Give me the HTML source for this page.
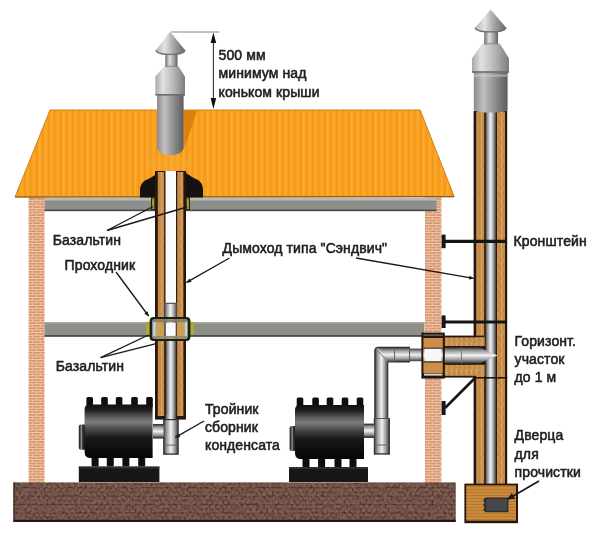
<!DOCTYPE html>
<html lang="ru">
<head>
<meta charset="utf-8">
<title>Дымоход типа "Сэндвич"</title>
<style>
html,body{margin:0;padding:0;background:#fff;}
body{width:600px;height:534px;overflow:hidden;}
svg{display:block;filter:blur(0.45px);}
text{font-family:"Liberation Sans",sans-serif;font-weight:normal;font-size:14px;fill:#202020;stroke:#202020;stroke-width:0.55px;letter-spacing:0.1px;}
</style>
</head>
<body>
<svg width="600" height="534" viewBox="0 0 600 534">
<defs>
  <!-- metal gradients -->
  <linearGradient id="mH" x1="0" y1="0" x2="1" y2="0">
    <stop offset="0" stop-color="#3e3e3e"/>
    <stop offset="0.2" stop-color="#9a9a9a"/>
    <stop offset="0.5" stop-color="#f2f2f2"/>
    <stop offset="0.76" stop-color="#a0a0a0"/>
    <stop offset="1" stop-color="#3a3a3a"/>
  </linearGradient>
  <linearGradient id="mV" x1="0" y1="0" x2="0" y2="1">
    <stop offset="0" stop-color="#3e3e3e"/>
    <stop offset="0.2" stop-color="#9a9a9a"/>
    <stop offset="0.5" stop-color="#f2f2f2"/>
    <stop offset="0.76" stop-color="#a0a0a0"/>
    <stop offset="1" stop-color="#3a3a3a"/>
  </linearGradient>
  <linearGradient id="capLight" x1="0" y1="0" x2="1" y2="0">
    <stop offset="0" stop-color="#a8a8a8"/>
    <stop offset="0.25" stop-color="#e2e2e2"/>
    <stop offset="0.6" stop-color="#b8b8b8"/>
    <stop offset="1" stop-color="#7c7c7c"/>
  </linearGradient>
  <linearGradient id="coneG" x1="0" y1="0" x2="1" y2="0">
    <stop offset="0" stop-color="#b4b4b4"/>
    <stop offset="0.3" stop-color="#e4e4e4"/>
    <stop offset="0.58" stop-color="#ababab"/>
    <stop offset="1" stop-color="#686868"/>
  </linearGradient>
  <linearGradient id="neckG" x1="0" y1="0" x2="1" y2="0">
    <stop offset="0" stop-color="#6e6e6e"/>
    <stop offset="0.35" stop-color="#dedede"/>
    <stop offset="0.7" stop-color="#a2a2a2"/>
    <stop offset="1" stop-color="#5e5e5e"/>
  </linearGradient>
  <linearGradient id="capDark" x1="0" y1="0" x2="1" y2="0">
    <stop offset="0" stop-color="#8a8a8a"/>
    <stop offset="0.28" stop-color="#c0c0c0"/>
    <stop offset="0.6" stop-color="#929292"/>
    <stop offset="1" stop-color="#5c5c5c"/>
  </linearGradient>
  <linearGradient id="stove" x1="0" y1="0" x2="0" y2="1">
    <stop offset="0" stop-color="#101010"/>
    <stop offset="0.1" stop-color="#1e1e1e"/>
    <stop offset="0.24" stop-color="#5e5e5e"/>
    <stop offset="0.33" stop-color="#7c7c7c"/>
    <stop offset="0.45" stop-color="#4c4c4c"/>
    <stop offset="0.62" stop-color="#1a1a1a"/>
    <stop offset="1" stop-color="#050505"/>
  </linearGradient>
  <linearGradient id="stoveCap" x1="0" y1="0" x2="1" y2="0">
    <stop offset="0" stop-color="#1e1e1e"/>
    <stop offset="0.16" stop-color="#3a3a3a"/>
    <stop offset="0.32" stop-color="#969696"/>
    <stop offset="0.5" stop-color="#2c2c2c"/>
    <stop offset="1" stop-color="#111111"/>
  </linearGradient>
  <!-- patterns -->
  <pattern id="roofP" width="6" height="10" patternUnits="userSpaceOnUse">
    <rect width="6" height="10" fill="#f9a01e"/>
    <rect x="0" width="1.2" height="10" fill="#f3951a"/>
    <rect x="3" width="1.4" height="10" fill="#fcab2e"/>
  </pattern>
  <pattern id="brickP" width="8" height="5.4" patternUnits="userSpaceOnUse">
    <rect width="8" height="5.4" fill="#d99770"/>
    <rect y="0" width="8" height="0.9" fill="#f0cdb4"/>
    <rect y="2.7" width="8" height="0.9" fill="#f0cdb4"/>
    <rect x="0" y="0" width="0.9" height="2.7" fill="#ebbfa2"/>
    <rect x="4" y="2.7" width="0.9" height="2.7" fill="#ebbfa2"/>
  </pattern>
  <pattern id="floorP" width="11" height="8.4" patternUnits="userSpaceOnUse">
    <rect width="11" height="8.4" fill="#704e43"/>
    <rect y="0" width="11" height="1.3" fill="#48302a"/>
    <rect y="4.2" width="11" height="1.1" fill="#553a32"/>
    <rect x="0" y="0" width="1.1" height="4.2" fill="#4e342d"/>
    <rect x="5.5" y="0" width="1.1" height="4.2" fill="#4e342d"/>
    <rect x="2.7" y="4.2" width="1.1" height="4.2" fill="#4e342d"/>
    <rect x="8.2" y="4.2" width="1.1" height="4.2" fill="#4e342d"/>
  </pattern>
  <pattern id="insP" width="5" height="9" patternUnits="userSpaceOnUse">
    <rect width="5" height="9" fill="#c88f4c"/>
    <rect x="1" y="0" width="1" height="6" fill="#d6a86c"/>
    <rect x="3.4" y="3" width="1" height="6" fill="#b98040"/>
    <rect x="2.2" y="6" width="1" height="3" fill="#d2a264"/>
  </pattern>
  <pattern id="boxP" width="6" height="3" patternUnits="userSpaceOnUse">
    <rect width="6" height="3" fill="#c98a3c"/>
    <rect y="0" width="6" height="0.8" fill="#b37528"/>
  </pattern>
  <filter id="noise" x="0" y="0" width="100%" height="100%">
    <feTurbulence type="fractalNoise" baseFrequency="0.32 0.36" numOctaves="2" seed="7" result="t"/>
    <feColorMatrix in="t" type="matrix" values="0 0 0 0 0.27  0 0 0 0 0.16  0 0 0 0 0.13  3.2 0 0 0 -1.1"/>
  </filter>
  <marker id="ahBig" viewBox="0 0 10 10" refX="9" refY="5" markerWidth="10" markerHeight="7.5" markerUnits="userSpaceOnUse" orient="auto">
    <path d="M0,0.5 L10,5 L0,9.5 z" fill="#1a1a1a"/>
  </marker>
  <marker id="ah" viewBox="0 0 10 10" refX="9" refY="5" markerWidth="7.5" markerHeight="5" markerUnits="userSpaceOnUse" orient="auto">
    <path d="M0,1 L10,5 L0,9 z" fill="#1a1a1a"/>
  </marker>
</defs>

<rect width="600" height="534" fill="#ffffff"/>

<!-- ===== WALLS ===== -->
<rect x="28.5" y="197" width="16" height="286" fill="url(#brickP)"/>
<rect x="425" y="197" width="16.4" height="286" fill="url(#brickP)"/>

<!-- ===== CEILING SLAB ===== -->
<g id="ceiling">
  <rect x="44.5" y="198" width="392" height="13" fill="#8d908a"/>
  <rect x="44.5" y="198" width="392" height="2.5" fill="#b9bab6"/>
  <rect x="44.5" y="209.6" width="392" height="1.6" fill="#4a4a48"/>
</g>

<!-- ===== FLOOR SLAB (2nd floor) ===== -->
<g id="midfloor">
  <rect x="44.5" y="322" width="380" height="14.5" fill="#8d8e88"/>
  <rect x="44.5" y="322" width="380" height="1.5" fill="#a9aaa5"/>
  <rect x="44.5" y="335.2" width="380" height="1.5" fill="#3c3c3a"/>
</g>

<!-- ===== GROUND ===== -->
<g id="ground">
  <rect x="13.5" y="482.5" width="442.2" height="39.4" fill="url(#floorP)"/>
  <rect x="13.5" y="482.5" width="442.2" height="39.4" fill="#6a463c" filter="url(#noise)" opacity="0.6"/>
  <rect x="13.5" y="519.8" width="442.2" height="2.1" fill="#1d1412"/>
  <rect x="13.5" y="482.5" width="1.2" height="39.4" fill="#3a231c"/>
</g>

<!-- ===== ROOF ===== -->
<g id="roof">
  <polygon points="50,110 420.2,110 454.2,196.6 15,197" fill="url(#roofP)"/>
  <polygon points="50,110 420.2,110 454.2,196.6 15,197" fill="none" stroke="#c9780f" stroke-width="0.9"/>
  <line x1="15" y1="197" x2="454" y2="196.6" stroke="#8a5a1a" stroke-width="1.2"/>
  <!-- shadow beside left chimney -->
  <polygon points="184,110.5 197,110.5 184.5,148" fill="#d9800f"/>
  <!-- light patch below chimney -->
  <ellipse cx="170" cy="163" rx="22" ry="7" fill="#f9a93a" opacity="0.35"/>
</g>

<!-- ===== roof penetration (black dome) ===== -->
<path d="M140,197.5 L140,191 C140,185 142.5,181.5 147,179.5 C151,178 154,175.5 157.5,173.2 L186.5,173.2 C190,175.5 193,178 197,179.5 C201,181.5 203,185 203,191 L203,197.5 Z" fill="#141210"/>

<!-- ===== LEFT SANDWICH PIPE ===== -->
<g id="leftpipe">
  <!-- outer shell -->
  <rect x="155" y="171" width="31" height="248.6" fill="#2a150c"/>
  <!-- insulation -->
  <rect x="157.8" y="172" width="6.4" height="244" fill="url(#insP)"/>
  <rect x="177.2" y="172" width="6.2" height="244" fill="url(#insP)"/>
  <!-- inner flue, empty (white) -->
  <rect x="165.5" y="171" width="10.5" height="132" fill="#fbfbfb"/>
  <!-- inner steel pipe -->
  <rect x="164.2" y="302.8" width="12.8" height="20" fill="url(#mH)"/>
  <rect x="164.2" y="302.8" width="12.8" height="1.2" fill="#5a5a5a"/>
  <rect x="165.6" y="322" width="10.6" height="100" fill="url(#mH)"/>
  <!-- bottom of shell: open inner -->
  <rect x="165.3" y="415" width="10.8" height="5" fill="url(#mH)"/>
</g>

<!-- basalt (yellow-green) at ceiling -->
<rect x="151" y="197.5" width="4.2" height="12.5" fill="#23230f"/>
<rect x="185.8" y="197.5" width="4.2" height="12.5" fill="#23230f"/>
<rect x="152" y="198.5" width="2.4" height="10.5" fill="#9a9a30"/>
<rect x="186.6" y="198.5" width="2.4" height="10.5" fill="#9a9a30"/>

<!-- ===== PASS-THROUGH COLLAR (Проходник) ===== -->
<g id="collar">
  <rect x="146.2" y="321.8" width="4" height="13" fill="#aeac2c"/>
  <rect x="190" y="321.8" width="4" height="13" fill="#aeac2c"/>
  <rect x="149.6" y="317" width="40.8" height="24" rx="4" ry="4" fill="#1a1e14"/>
  <rect x="152.2" y="319.2" width="35.6" height="19.6" rx="2" ry="2" fill="#a9a9a4"/>
  <rect x="153.4" y="321" width="2" height="16" fill="#d0d0cc"/>
  <rect x="185" y="321" width="2" height="16" fill="#d0d0cc"/>
  <rect x="157" y="319.2" width="26.6" height="19.6" fill="#c6a160"/>
  <rect x="157" y="323" width="7.2" height="12.5" fill="#d0a048"/>
  <rect x="177" y="323" width="6.6" height="12.5" fill="#d0a048"/>
  <rect x="164.2" y="319.2" width="12.8" height="19.6" fill="url(#mH)"/>
  <rect x="166" y="322.8" width="9.6" height="13" fill="#fafafa"/>
  <rect x="153" y="319.2" width="34" height="3" fill="#857b68" opacity="0.9"/>
  <rect x="153" y="336" width="34" height="2.8" fill="#958a74" opacity="0.9"/>
</g>

<!-- ===== LEFT CHIMNEY CAP ===== -->
<g id="leftcap">
  <!-- lower cylinder -->
  <path d="M157,94 L183.6,94 L183.6,147 C183.6,158 157,158 157,147 Z" fill="url(#capDark)"/>
  <!-- shoulder band -->
  <path d="M164,66.4 L178.6,66.4 L185,76.5 L185,95 L155.4,95 L155.4,76.5 Z" fill="url(#capLight)"/>
  <rect x="155.4" y="94" width="29.6" height="1.6" fill="#6a6a6a"/>
  <!-- neck -->
  <rect x="165.3" y="53" width="12.2" height="14" fill="url(#neckG)"/>
  <rect x="165.3" y="65.8" width="12.2" height="1" fill="#8a8a8a"/>
  <!-- cone -->
  <path d="M170,31.8 L185,50 C185,56 156,56 156,50 Z" fill="url(#coneG)"/>
  <path d="M156,50 C156,56 185,56 185,50" fill="none" stroke="#6e6e6e" stroke-width="1.2"/>
</g>

<!-- dimension -->
<g id="dim" stroke="#222" stroke-width="1" fill="#111">
  <line x1="171" y1="32" x2="219.4" y2="32" stroke="#777" stroke-width="0.9"/>
  <line x1="213.4" y1="36" x2="213.4" y2="104"/>
  <polygon points="213.4,32.4 210.6,43 216.2,43" stroke="none"/>
  <polygon points="213.4,109 210.6,98 216.2,98" stroke="none"/>
</g>

<!-- ===== LEFT TEE ===== -->
<g id="lefttee">
  <rect x="153" y="424.5" width="14" height="13.6" fill="url(#mV)"/>
  <rect x="153" y="424.1" width="11" height="1.1" fill="#333"/>
  <rect x="153" y="437.4" width="11" height="1.1" fill="#333"/>
  <rect x="163.6" y="419" width="14.6" height="35.6" fill="url(#mH)"/>
  <rect x="163.2" y="419" width="1.1" height="5.5" fill="#2e2e2e"/>
  <rect x="163.2" y="438" width="1.1" height="16.6" fill="#2e2e2e"/>
  <rect x="177.6" y="419" width="1.1" height="35.6" fill="#2e2e2e"/>
  <rect x="163.6" y="444.6" width="14.6" height="1" fill="#666"/>
  <rect x="163.6" y="453.4" width="14.6" height="1.4" fill="#3a3a3a"/>
  <rect x="163.6" y="419" width="14.6" height="1.2" fill="#333"/>
</g>

<!-- ===== LEFT STOVE ===== -->
<g id="stoveL">
  <g fill="#0e0e0e">
    <rect x="86.4" y="397" width="6.6" height="10" rx="1.5"/>
    <rect x="101.2" y="397" width="6.6" height="10" rx="1.5"/>
    <rect x="115.8" y="397" width="6.6" height="10" rx="1.5"/>
    <rect x="131.2" y="397" width="6.6" height="10" rx="1.5"/>
    <rect x="146.2" y="397" width="6.6" height="10" rx="1.5"/>
    <rect x="91.6" y="455" width="7" height="11.5" rx="1"/>
    <rect x="106.8" y="455" width="7" height="11.5" rx="1"/>
    <rect x="122.4" y="455" width="7" height="11.5" rx="1"/>
    <rect x="138.2" y="455" width="7" height="11.5" rx="1"/>
  </g>
  <rect x="78.8" y="424.4" width="8" height="25.4" rx="2" fill="url(#stoveCap)"/>
  <path d="M89.6,404.6 L152.6,404.6 L152.6,458 L90.6,458 Q84.6,458 84.6,452 L84.6,409.6 Q84.6,404.6 89.6,404.6 Z" fill="url(#stove)"/>
  <rect x="78.8" y="466.6" width="80.6" height="15.4" fill="#171717"/>
  <rect x="78.8" y="466.6" width="80.6" height="2" fill="#2e2e2e"/>
</g>

<!-- ===== RIGHT STOVE ===== -->
<g id="stoveR">
  <g fill="#0e0e0e">
    <rect x="296.7" y="397.4" width="6.6" height="10" rx="1.5"/>
    <rect x="312.3" y="397.4" width="6.6" height="10" rx="1.5"/>
    <rect x="326.7" y="397.4" width="6.6" height="10" rx="1.5"/>
    <rect x="341.7" y="397.4" width="6.6" height="10" rx="1.5"/>
    <rect x="356.7" y="397.4" width="6.6" height="10" rx="1.5"/>
    <rect x="302.5" y="456" width="7" height="11.5" rx="1"/>
    <rect x="318.1" y="456" width="7" height="11.5" rx="1"/>
    <rect x="334.5" y="456" width="7" height="11.5" rx="1"/>
    <rect x="349.5" y="456" width="7" height="11.5" rx="1"/>
  </g>
  <rect x="289.6" y="426" width="8" height="25" rx="2" fill="url(#stoveCap)"/>
  <path d="M300,405 L364,405 L364,459 L301,459 Q295,459 295,453 L295,410 Q295,405 300,405 Z" fill="url(#stove)"/>
  <rect x="289" y="467" width="79" height="15" fill="#171717"/>
  <rect x="289" y="467" width="79" height="2" fill="#2e2e2e"/>
</g>

<!-- ===== RIGHT ROOM PIPING ===== -->
<g id="roompipe">
  <!-- horizontal run -->
  <rect x="380" y="347.6" width="30" height="14.4" fill="url(#mV)"/>
  <rect x="409.5" y="348.6" width="13" height="12.6" fill="url(#mV)"/>
  <rect x="394" y="347.6" width="1" height="14.4" fill="#666"/>
  <rect x="409" y="347.6" width="1" height="14.4" fill="#555"/>
  <rect x="388" y="361.4" width="22" height="1.1" fill="#2e2e2e"/>
  <!-- vertical run -->
  <rect x="375" y="356" width="12.8" height="63" fill="url(#mH)"/>
  <rect x="387.2" y="362" width="1.1" height="57" fill="#2e2e2e"/>
  <!-- elbow -->
  <path d="M375,362 L375,351 Q375,347.6 378.5,347.6 L388,347.6 L388,362 Z" fill="url(#mH)"/>
  <path d="M378,347.6 L394,347.6 L394,362 L387.8,362 Z" fill="url(#mV)"/>
  <path d="M374.8,419 L374.8,351 Q374.8,347.4 378.5,347.4 L410,347.4" fill="none" stroke="#2e2e2e" stroke-width="1.2"/>
  <line x1="375.4" y1="348" x2="388" y2="362" stroke="#777" stroke-width="0.9"/>
  <!-- tee -->
  <rect x="364" y="424" width="14" height="13.4" fill="url(#mV)"/>
  <rect x="364" y="423.6" width="10.4" height="1.1" fill="#333"/>
  <rect x="364" y="436.8" width="10.4" height="1.1" fill="#333"/>
  <rect x="374.2" y="418" width="15.2" height="36.4" fill="url(#mH)"/>
  <rect x="373.8" y="418" width="1.1" height="6" fill="#2e2e2e"/>
  <rect x="373.8" y="437.4" width="1.1" height="17" fill="#2e2e2e"/>
  <rect x="388.8" y="418" width="1.1" height="36.4" fill="#2e2e2e"/>
  <rect x="374.2" y="418" width="15.2" height="1" fill="#555"/>
  <rect x="374.2" y="444.5" width="15.2" height="1" fill="#666"/>
  <rect x="374.2" y="453.2" width="15.2" height="1.4" fill="#3a3a3a"/>
</g>

<!-- ===== RIGHT OUTDOOR CHIMNEY ===== -->
<g id="rightpipe">
  <!-- vertical shell -->
  <rect x="473.6" y="111" width="33.6" height="374" fill="#2a150c"/>
  <rect x="476.3" y="112" width="7.9" height="372" fill="url(#insP)"/>
  <rect x="497" y="112" width="8" height="372" fill="url(#insP)"/>
  <rect x="485.4" y="112" width="10.6" height="372" fill="url(#mH)"/>
  <!-- horizontal sandwich section -->
  <rect x="444" y="335.6" width="40" height="42" fill="#2a150c"/>
  <rect x="444" y="337.4" width="40.6" height="8.8" fill="url(#insP)"/>
  <rect x="444" y="364.6" width="40.6" height="11.2" fill="url(#insP)"/>
  <rect x="476.3" y="337.4" width="7.9" height="8.8" fill="url(#insP)"/>
  <rect x="476.3" y="364.6" width="7.9" height="13" fill="url(#insP)"/>
  <!-- inner horizontal steel pipe with pointed end -->
  <rect x="444" y="346.2" width="41" height="18.4" fill="#2a150c"/>
  <path d="M444,347.6 L480,347.6 L497.5,355.4 L480,363.2 L444,363.2 Z" fill="url(#mV)"/>
  <rect x="461" y="347.6" width="1" height="15.6" fill="#777"/>
  <!-- joint lines on shell -->
  <rect x="473.6" y="377" width="33.6" height="1.6" fill="#20140c"/>
  <!-- cap cylinder -->
  <path d="M473.8,72 L507.6,72 L507.6,110 C507.6,113.4 473.8,113.4 473.8,110 Z" fill="url(#capDark)"/>
  <rect x="473.8" y="74.5" width="33.8" height="2.2" fill="#d0d0d0" opacity="0.55"/>
  <!-- shoulder band -->
  <path d="M482.4,43.6 L499.8,43.6 L509,58.6 L509,72.4 L472,72.4 L472,58.6 Z" fill="url(#capLight)"/>
  <rect x="472" y="71.2" width="37" height="1.6" fill="#6a6a6a"/>
  <!-- neck -->
  <rect x="484.2" y="31" width="13.8" height="13.4" fill="url(#neckG)"/>
  <rect x="484.2" y="43.2" width="13.8" height="1" fill="#8a8a8a"/>
  <!-- cone -->
  <path d="M490.6,9.4 L506,27.4 C506,33.4 475.2,33.4 475.2,27.4 Z" fill="url(#coneG)"/>
  <path d="M475.2,27.4 C475.2,33.4 506,33.4 506,27.4" fill="none" stroke="#6e6e6e" stroke-width="1.2"/>
</g>

<!-- ===== WALL PASS-THROUGH ===== -->
<g id="wallpass">
  <rect x="421.4" y="332.6" width="23.4" height="46" fill="#20160e"/>
  <rect x="423.4" y="338" width="19.4" height="35" fill="#cc8e48"/>
  <rect x="423.4" y="347.6" width="19.4" height="15" fill="url(#mV)"/>
  <rect x="424.4" y="349" width="17" height="12" fill="#f8f8f8"/>
  <rect x="424" y="373.6" width="18.4" height="2" fill="#d8d8d8"/>
  <rect x="423.4" y="334.4" width="19.4" height="1.4" fill="#6e6a60"/>
</g>

<!-- ===== BRACKETS ===== -->
<g id="brackets" stroke="#151515" fill="#151515">
  <line x1="444" y1="241.3" x2="507" y2="241.3" stroke-width="3.2"/>
  <rect x="441.6" y="234.6" width="4" height="13.6" stroke="none"/>
  <line x1="444" y1="322" x2="507" y2="322" stroke-width="3.2"/>
  <rect x="441.6" y="315.4" width="4" height="12.6" stroke="none"/>
  <line x1="445" y1="408" x2="475" y2="378" stroke-width="2.6"/>
  <rect x="441.6" y="401" width="4" height="14" stroke="none"/>
</g>

<!-- ===== CLEAN-OUT BOX ===== -->
<g id="box">
  <rect x="464.4" y="483.6" width="53.6" height="39.6" fill="#2a150c"/>
  <rect x="466.2" y="485.4" width="49.8" height="35.2" fill="url(#boxP)"/>
  <path d="M485.4,497.6 L508.4,497.6 L508.4,512.2 L485.4,512.2 L483,509.6 L484.6,507.4 L483,505 L484.6,502.6 L483,500.2 Z" fill="#2c2e30"/>
  <rect x="486.4" y="499" width="20.6" height="11.8" fill="#44484a"/>
</g>

<!-- ===== LEADER LINES ===== -->
<g id="leaders" stroke="#1a1a1a" stroke-width="1.35" fill="none">
  <!-- Базальтин (upper) -->
  <line x1="107" y1="230.5" x2="153" y2="206.5"/>
  <line x1="107" y1="230.5" x2="187" y2="207"/>
  <!-- Проходник -->
  <line x1="116" y1="272" x2="148.6" y2="316" marker-end="url(#ah)"/>
  <!-- Базальтин (lower) -->
  <line x1="100.6" y1="357.6" x2="148.5" y2="335"/>
  <line x1="100.6" y1="357.6" x2="157" y2="343.4"/>
  <!-- Дымоход -->
  <line x1="229.5" y1="258" x2="186.6" y2="282.4" marker-end="url(#ah)"/>
  <line x1="356" y1="258" x2="473.6" y2="278.4" marker-end="url(#ah)"/>
  <!-- Тройник -->
  <line x1="204" y1="421" x2="175.4" y2="437.4" marker-end="url(#ah)"/>
  <!-- Дверца -->
  <line x1="539" y1="481" x2="507.6" y2="499.2" stroke-width="1.7" marker-end="url(#ahBig)"/>
</g>

<!-- ===== LABELS ===== -->
<g id="labels">
  <text x="218.6" y="59.6">500 мм</text>
  <text x="218.6" y="78.4">минимум над</text>
  <text x="218.6" y="97">коньком крыши</text>

  <text x="52.8" y="244.8" fill="#484848" stroke="#484848" stroke-width="0.35">Базальтин</text>
  <text x="64.6" y="269.8">Проходник</text>
  <text x="55.8" y="371.2" fill="#484848" stroke="#484848" stroke-width="0.35">Базальтин</text>

  <text x="222.6" y="252.8">Дымоход типа "Сэндвич"</text>

  <text x="513.6" y="246.2">Кронштейн</text>

  <text x="514.6" y="346">Горизонт.</text>
  <text x="514.6" y="363.6">участок</text>
  <text x="514.6" y="382.2">до 1 м</text>

  <text x="205" y="413.6">Тройник</text>
  <text x="205" y="432">сборник</text>
  <text x="205" y="450">конденсата</text>

  <text x="514.6" y="440">Дверца</text>
  <text x="514.6" y="459">для</text>
  <text x="514.6" y="477">прочистки</text>
</g>

</svg>
</body>
</html>
